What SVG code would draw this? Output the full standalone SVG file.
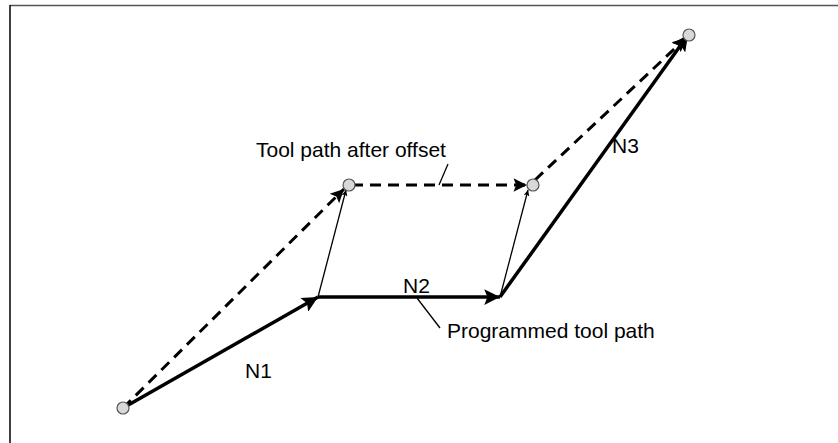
<svg xmlns="http://www.w3.org/2000/svg" width="838" height="443" viewBox="0 0 838 443">
<style>
.thick{stroke:#000;stroke-width:3.5;fill:none}
.dash{stroke:#000;stroke-width:3;fill:none;stroke-dasharray:11 7}
.thin{stroke:#000;stroke-width:1.3;fill:none}
.pt{fill:#d8d8d8;stroke:#555;stroke-width:1.2}
.lbl{font-family:"Liberation Sans",Arial,sans-serif;font-size:21px;fill:#000}
</style>
<defs>
<marker id="ah" viewBox="0 0 10 10" refX="10" refY="5" markerWidth="6.5" markerHeight="4.5" orient="auto" markerUnits="strokeWidth"><path d="M0,0 L10,5 L0,10 L2,5 Z" fill="#000"/></marker>
<marker id="ahThin" viewBox="0 0 10 10" refX="10" refY="5" markerWidth="10" markerHeight="4.5" orient="auto" markerUnits="strokeWidth"><path d="M0,0 L10,5 L0,10 L2,5 Z" fill="#000"/></marker>
</defs>
<rect width="838" height="443" fill="#fff"/>
<g id="frame">
<line x1="10" y1="5.5" x2="838" y2="5.5" stroke="#555" stroke-width="1.5"/>
<line x1="10" y1="5" x2="10" y2="443" stroke="#000" stroke-width="1.5"/>
</g>
<g id="connectors">
<line class="dash" x1="123" y1="408" x2="344" y2="189" marker-end="url(#ah)"/>
<line class="dash" x1="352" y1="185" x2="527" y2="185" marker-end="url(#ah)"/>
<line class="dash" x1="535" y1="180" x2="686" y2="38" marker-end="url(#ah)"/>
<line class="thin" x1="318" y1="297" x2="346" y2="190" marker-end="url(#ahThin)"/>
<line class="thin" x1="500" y1="297" x2="528" y2="190" marker-end="url(#ahThin)"/>
<line class="thick" x1="123" y1="408" x2="318" y2="297" marker-end="url(#ah)"/>
<line class="thick" x1="318" y1="297" x2="500" y2="297" marker-end="url(#ah)"/>
<line class="thick" x1="500" y1="297" x2="688" y2="35" marker-end="url(#ah)"/>
<line class="thin" x1="417" y1="298" x2="440" y2="328"/>
<line class="thin" x1="448" y1="164" x2="439" y2="185"/>
</g>
<g id="points">
<circle class="pt" cx="123" cy="408" r="6"/>
<circle class="pt" cx="349" cy="185" r="6"/>
<circle class="pt" cx="533" cy="185" r="6"/>
<circle class="pt" cx="689" cy="35" r="6"/>
</g>
<g id="labels">
<text class="lbl" x="245" y="378">N1</text>
<text class="lbl" x="403" y="293">N2</text>
<text class="lbl" x="612" y="153">N3</text>
<text class="lbl" x="256" y="157">Tool path after offset</text>
<text class="lbl" x="447" y="338">Programmed tool path</text>
</g>
</svg>
